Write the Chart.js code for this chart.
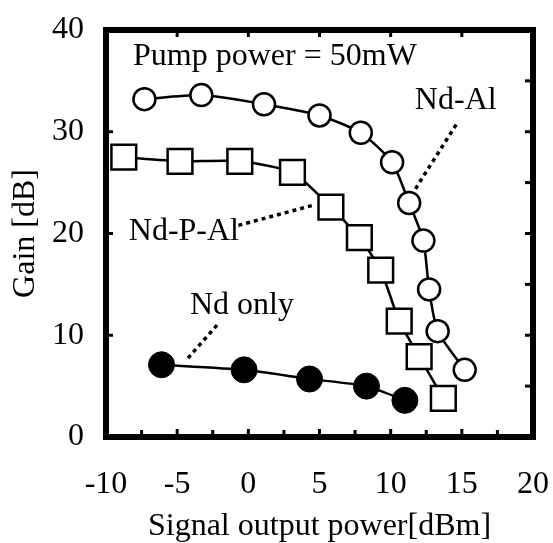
<!DOCTYPE html>
<html>
<head>
<meta charset="utf-8">
<script src="https://cdn.jsdelivr.net/npm/chart.js@4.4.0/dist/chart.umd.min.js"></script>
<style>
    html, body { margin: 0; padding: 0; background: #fff; }
    #wrap { width: 553px; height: 543px; }
</style>
</head>
<body>
<div id="wrap"><canvas id="gainChart" width="553" height="543"></canvas></div>
<script>
// ---- data ----
// Nd-Al (open circles)
const ndAlX = [-7.3, -3.3, 1.1, 5.0, 7.9, 10.1, 11.3, 12.3, 12.7, 13.3, 15.2];
const ndAlY = [33.2, 33.6, 32.7, 31.6, 29.9, 27.0, 23.0, 19.3, 14.5, 10.4, 6.6];
// Nd-P-Al (open squares)
const ndPAlX = [-8.75, -4.8, -0.6, 3.1, 5.8, 7.8, 9.3, 10.6, 12.0, 13.7];
const ndPAlY = [27.5, 27.1, 27.1, 26.0, 22.6, 19.6, 16.4, 11.4, 7.9, 3.8];
// Nd only (filled circles)
const ndOnlyX = [-6.1, -0.3, 4.3, 8.3, 11.0];
const ndOnlyY = [7.1, 6.6, 5.7, 5.0, 3.6];

// dotted leader lines from each label to its curve
const leaderNdAl = [[14.6, 30.7], [11.7, 24.3]];
const leaderNdPAl = [[-0.7, 20.8], [4.6, 22.8]];
const leaderNdOnly = [[-2.2, 11.0], [-4.4, 7.5]];

// text labels: [text, x, y]
const annotations = [
    ['Pump power = 50mW', -8.1, 36.6],
    ['Nd-Al', 11.7, 32.2],
    ['Nd-P-Al', -8.4, 19.4],
    ['Nd only', -4.1, 12.1]
];

const xTicks = { min: -10, max: 20, step: 5 };
const yTicks = { min: 0, max: 40, step: 10 };

const FONT = 'Liberation Serif';
const FSIZE = 32;

function toPoints(xs, ys) {
    return xs.map((x, i) => ({ x: x, y: ys[i] }));
}
function pairPoints(pairs) {
    return pairs.map(p => ({ x: p[0], y: p[1] }));
}

function leader(pairs) {
    return {
        data: pairPoints(pairs),
        showLine: true,
        borderColor: '#000',
        borderWidth: 3.5,
        borderDash: [4, 4],
        pointRadius: 0,
        order: 5
    };
}

// frame + inward tick marks
const framePlugin = {
    id: 'frame',
    afterDraw(chart) {
        const ctx = chart.ctx;
        const a = chart.chartArea;
        const xs = chart.scales.x;
        const ys = chart.scales.y;
        ctx.save();
        ctx.strokeStyle = '#000';
        ctx.lineWidth = 3;
        for (let v = xTicks.min; v <= xTicks.max; v += 2.5) {
            const px = xs.getPixelForValue(v);
            ctx.beginPath();
            ctx.moveTo(px, a.bottom);
            ctx.lineTo(px, a.bottom - (v % 5 === 0 ? 8 : 7));
            ctx.stroke();
            if (v % 5 === 0) {
                ctx.beginPath();
                ctx.moveTo(px, a.top);
                ctx.lineTo(px, a.top + 7);
                ctx.stroke();
            }
        }
        for (let v = yTicks.min; v <= yTicks.max; v += 5) {
            const py = ys.getPixelForValue(v);
            ctx.beginPath();
            ctx.moveTo(a.right, py);
            ctx.lineTo(a.right - 8, py);
            ctx.stroke();
            if (v % 10 === 0) {
                ctx.beginPath();
                ctx.moveTo(a.left, py);
                ctx.lineTo(a.left + 7, py);
                ctx.stroke();
            }
        }
        ctx.lineWidth = 6;
        ctx.strokeRect(a.left, a.top, a.right - a.left, a.bottom - a.top);
        ctx.restore();
    }
};

const labelPlugin = {
    id: 'labels',
    afterDatasetsDraw(chart) {
        const ctx = chart.ctx;
        const xs = chart.scales.x;
        const ys = chart.scales.y;
        ctx.save();
        ctx.fillStyle = '#000';
        ctx.font = FSIZE + 'px "' + FONT + '"';
        ctx.textAlign = 'left';
        ctx.textBaseline = 'alphabetic';
        annotations.forEach(([text, x, y]) => {
            ctx.fillText(text, xs.getPixelForValue(x), ys.getPixelForValue(y));
        });
        ctx.restore();
    }
};

const ctx = document.getElementById('gainChart').getContext('2d');
const gainChart = new Chart(ctx, {
    type: 'scatter',
    data: {
        datasets: [
            leader(leaderNdAl),
            leader(leaderNdPAl),
            leader(leaderNdOnly),
            {
                label: 'Nd only',
                data: toPoints(ndOnlyX, ndOnlyY),
                showLine: true,
                tension: 0.2,
                borderColor: '#000',
                borderWidth: 2.5,
                pointStyle: 'circle',
                pointRadius: 13,
                pointBackgroundColor: '#000',
                pointBorderColor: '#000',
                pointBorderWidth: 1,
                order: 3
            },
            {
                label: 'Nd-P-Al',
                data: toPoints(ndPAlX, ndPAlY),
                showLine: true,
                tension: 0.2,
                borderColor: '#000',
                borderWidth: 2.5,
                pointStyle: 'rect',
                pointRadius: 17.5,
                pointBackgroundColor: '#fff',
                pointBorderColor: '#000',
                pointBorderWidth: 2.5,
                order: 2
            },
            {
                label: 'Nd-Al',
                data: toPoints(ndAlX, ndAlY),
                showLine: true,
                tension: 0.2,
                borderColor: '#000',
                borderWidth: 2.5,
                pointStyle: 'circle',
                pointRadius: 11,
                pointBackgroundColor: '#fff',
                pointBorderColor: '#000',
                pointBorderWidth: 2.5,
                order: 1
            }
        ]
    },
    options: {
        responsive: false,
        animation: false,
        layout: { padding: { top: 30, right: 2, left: 0, bottom: 0 } },
        plugins: {
            legend: { display: false },
            tooltip: { enabled: false }
        },
        scales: {
            x: {
                type: 'linear',
                min: xTicks.min,
                max: xTicks.max,
                grid: { display: false },
                border: { display: false },
                ticks: {
                    stepSize: xTicks.step,
                    color: '#000',
                    padding: 20,
                    font: { family: FONT, size: FSIZE }
                },
                title: {
                    display: true,
                    text: 'Signal output power[dBm]',
                    color: '#000',
                    padding: 0,
                    font: { family: FONT, size: FSIZE, lineHeight: 1 }
                },
                afterFit: s => {
                    s.height = 106;
                    s.paddingLeft = 0;
                    s.paddingRight = 0;
                }
            },
            y: {
                type: 'linear',
                min: yTicks.min,
                max: yTicks.max,
                grid: { display: false },
                border: { display: false },
                ticks: {
                    stepSize: yTicks.step,
                    color: '#000',
                    padding: 14,
                    font: { family: FONT, size: FSIZE }
                },
                title: {
                    display: true,
                    text: 'Gain [dB]',
                    color: '#000',
                    padding: { top: 10, bottom: 0 },
                    font: { family: FONT, size: FSIZE, lineHeight: 1 }
                },
                afterFit: s => {
                    s.width = 106;
                    s.paddingTop = 0;
                    s.paddingBottom = 0;
                }
            }
        }
    },
    plugins: [framePlugin, labelPlugin]
});
</script>
</body>
</html>
